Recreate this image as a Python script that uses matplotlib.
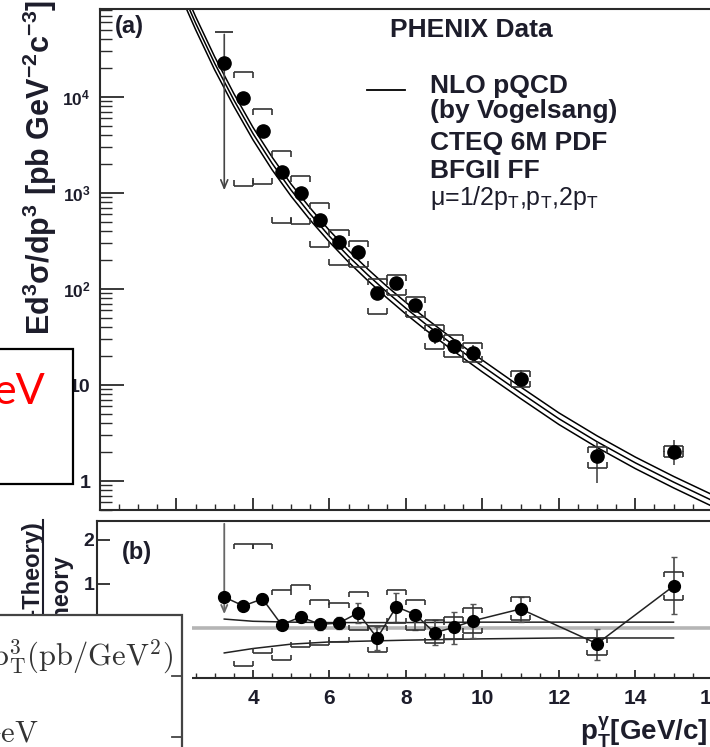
import numpy as np
import matplotlib
matplotlib.use('Agg')
import matplotlib.pyplot as plt
from matplotlib.patches import Rectangle
from matplotlib.lines import Line2D
from matplotlib.ticker import MultipleLocator, LogLocator, NullFormatter

plt.rcParams['font.family'] = ['Liberation Sans', 'DejaVu Sans']
plt.rcParams['mathtext.fontset'] = 'custom'
plt.rcParams['mathtext.rm'] = 'Liberation Sans:bold'
plt.rcParams['mathtext.it'] = 'Liberation Sans:bold'
plt.rcParams['mathtext.bf'] = 'Liberation Sans:bold'

### PHENIX direct photon points
pt = [3.25, 3.75, 4.25, 4.75, 5.25, 5.75, 6.25, 6.75, 7.25, 7.75, 8.25, 8.75, 9.25, 9.75, 11.0, 13.0, 15.0]
xsec = [22600, 9800, 4400, 1660, 1000, 525, 308, 243, 91, 115, 68, 33, 25.5, 21.5, 11.5, 1.82, 2.0]
stat_hi = [48000, 10600, 4800, 1800, 1090, 575, 340, 270, 103, 130, 78, 39, 30, 26, 14.2, 2.55, 2.67]
stat_lo = [1000, 9000, 4000, 1520, 920, 480, 280, 218, 78, 100, 58, 27, 21, 17.5, 9.3, 0.95, 1.47]
sys_hi = [np.nan, 18200, 7500, 2740, 1500, 790, 410, 316, 126, 140, 83, 42, 33, 27.5, 14, 2.26, 2.3]
sys_lo = [np.nan, 1180, 1240, 490, 480, 275, 178, 170, 55, 87, 51, 24, 19.5, 17.4, 9.6, 1.36, 1.78]

### (Data-Theory)/Theory
ratio = [0.70, 0.50, 0.66, 0.07, 0.25, 0.08, 0.11, 0.34, -0.23, 0.48, 0.30, -0.11, 0.01, 0.16, 0.43, -0.36, 0.95]
ratio_stat_hi = [3.0, 0.60, 0.76, 0.17, 0.36, 0.18, 0.25, 0.57, 0.02, 0.80, 0.41, 0.18, 0.36, 0.55, 0.70, -0.02, 1.61]
ratio_stat_lo = [0.25, 0.40, 0.56, -0.03, 0.14, -0.04, -0.03, 0.11, -0.50, 0.14, -0.05, -0.39, -0.36, -0.23, 0.14, -0.73, 0.32]
ratio_sys_hi = [np.nan, 1.90, 1.90, 0.86, 0.98, 0.64, 0.57, 0.82, 0.05, 0.85, 0.64, 0.18, 0.25, 0.45, 0.70, -0.22, 1.27]
ratio_sys_lo = [np.nan, -0.86, -0.57, -0.73, -0.43, -0.39, -0.32, -0.05, -0.55, 0.10, -0.05, -0.34, -0.25, -0.11, 0.18, -0.61, 0.64]

### NLO pQCD curves (mu = pT/2, pT, 2pT)
pt_th = [2.2, 2.5, 3.0, 3.5, 4.0, 4.5, 5.0, 5.5, 6.0, 6.5, 7.0, 7.5, 8.0, 8.5, 9.0, 9.5, 10, 11, 12, 13, 14, 15, 16, 17]
th_mid = [110000, 58900, 22400, 9330, 4170, 2040, 1070, 603, 355, 219, 141, 93.3, 63.1, 43.7, 30.9, 21.9,
          15.8, 8.32, 4.47, 2.57, 1.55, 0.977, 0.631, 0.417]
th_hi = [128700, 68900, 26200, 10870, 4840, 2370, 1236, 696, 408, 252, 162, 107, 72.6, 50.3, 35.5, 25.2,
         18.2, 9.57, 5.14, 2.96, 1.78, 1.12, 0.726, 0.480]
th_lo = [94000, 50400, 19150, 8020, 3590, 1750, 925, 522, 309, 191, 123, 81.2, 54.9, 38.0, 26.9, 19.1,
         13.7, 7.24, 3.89, 2.24, 1.35, 0.850, 0.549, 0.363]

### scale bands in the ratio panel
pt_sc = [3.25, 4, 5, 6, 7, 8, 10, 12, 15]
sc_hi = [0.20, 0.15, 0.13, 0.12, 0.12, 0.12, 0.13, 0.13, 0.13]
sc_lo = [-0.57, -0.47, -0.37, -0.32, -0.30, -0.28, -0.25, -0.23, -0.23]

legend_lines = ['NLO pQCD', '(by Vogelsang)', 'CTEQ 6M PDF', 'BFGII FF']

W, H = 710, 747
def fx(px):
    return px / W
def fy(py):
    return 1 - py / H

txt = '#1d1d2b'
spc = '#2a2a2a'

fig = plt.figure(figsize=(W / 100, H / 100), dpi=100)
ax = fig.add_axes([fx(100), fy(510), 650 / W, 501 / H])
ax2 = fig.add_axes([fx(97), fy(678), 650 / W, 157 / H])


def brackets(a, x, hi, lo, w=0.25, ms=4):
    x = np.asarray(x); hi = np.asarray(hi); lo = np.asarray(lo)
    ok = ~np.isnan(hi)
    x, hi, lo = x[ok], hi[ok], lo[ok]
    a.hlines(hi, x - w, x + w, color='#333333', lw=1.2, zorder=3)
    a.hlines(lo, x - w, x + w, color='#333333', lw=1.2, zorder=3)
    ends = np.concatenate([x - w, x + w])
    a.plot(ends, np.concatenate([hi, hi]), ls='none', marker=3, ms=ms, mew=1.2, color='#333333', zorder=3)
    a.plot(ends, np.concatenate([lo, lo]), ls='none', marker=2, ms=ms, mew=1.2, color='#333333', zorder=3)


#### top panel: cross section
ax.set_yscale('log')
for curve in (th_hi, th_mid, th_lo):
    ax.plot(pt_th, curve, color='black', lw=1.1, zorder=2)

y = np.array(xsec)
eh = np.array(stat_hi) - y
el = y - np.array(stat_lo)
ax.errorbar(pt[1:], xsec[1:], yerr=[el[1:], eh[1:]], fmt='none', ecolor='#555555', elinewidth=1.3, capsize=0, zorder=3)
# first point: upper limit arrow
ax.annotate('', xy=(pt[0], stat_lo[0]), xytext=(pt[0], stat_hi[0]),
            arrowprops=dict(arrowstyle='->,head_length=0.6,head_width=0.25', color='#444444', lw=1.2))
ax.hlines(stat_hi[0], pt[0] - 0.24, pt[0] + 0.24, color='#333333', lw=1.3)
brackets(ax, pt, sys_hi, sys_lo)
ax.plot(pt, xsec, ls='none', marker='o', ms=9.5, color='black', zorder=4)

ax.set_xlim(0, 17)
ax.set_ylim(0.5, 8.26e4)
ax.set_xticks(np.arange(0, 18, 2))
ax.xaxis.set_minor_locator(MultipleLocator(0.5))
ax.tick_params(axis='x', which='major', direction='in', length=8.6, width=1.3, color=spc, labelbottom=False)
ax.tick_params(axis='x', which='minor', direction='in', length=4.3, width=1.0, color=spc)
ax.set_yticks([1, 10, 100, 1000, 10000], labels=['1', '10', r'$10^2$', r'$10^3$', r'$10^4$'])
ax.yaxis.set_minor_locator(LogLocator(base=10, subs=np.arange(2, 10)))
ax.yaxis.set_minor_formatter(NullFormatter())
ax.tick_params(axis='y', which='major', direction='in', length=17, width=1.3, color=spc, pad=7)
ax.tick_params(axis='y', which='minor', direction='in', length=8.5, width=1.0, color=spc)
for lb in ax.get_yticklabels():
    lb.set_fontweight('bold')
    lb.set_color(txt)
    lb.set_fontsize(14 if lb.get_text() in ('1', '10') else 12.5)
for s in ax.spines.values():
    s.set_color(spc)
    s.set_linewidth(1.5)

#### bottom panel: ratio
ax2.axhline(0, color='#b5b5b5', lw=2.6, zorder=1)
ax2.plot(pt_sc, sc_hi, color='#222222', lw=1.1, zorder=2)
ax2.plot(pt_sc, sc_lo, color='#222222', lw=1.1, zorder=2)
r = np.array(ratio)
rh = np.array(ratio_stat_hi) - r
rl = r - np.array(ratio_stat_lo)
ax2.errorbar(pt[1:], ratio[1:], yerr=[rl[1:], rh[1:]], fmt='none', ecolor='#555555', elinewidth=1.3, capsize=2.5, zorder=3)
ax2.annotate('', xy=(pt[0], ratio_stat_lo[0]), xytext=(pt[0], 2.43),
             arrowprops=dict(arrowstyle='->,head_length=0.5,head_width=0.22', color='#666666', lw=1.3))
brackets(ax2, pt, ratio_sys_hi, ratio_sys_lo, ms=3.5)
ax2.plot(pt, ratio, color='#222222', lw=1.1, marker='o', ms=8.5, mfc='black', mec='black', zorder=4)

ax2.set_xlim(-3 / 38.25, 17 - 3 / 38.25)
ax2.set_ylim(-1.14, 2.43)
ax2.set_xticks(np.arange(0, 18, 2))
ax2.xaxis.set_minor_locator(MultipleLocator(0.5))
ax2.tick_params(axis='x', which='major', direction='in', length=5.5, width=1.3, color=spc, pad=8, labelsize=15, labelcolor=txt)
ax2.tick_params(axis='x', which='minor', direction='in', length=3.5, width=1.0, color=spc)
# the -1 and 0 labels sit under the pasted box, so they are left blank
ax2.set_yticks([-1, 0, 1, 2], labels=['', '', '1', '2'])
ax2.tick_params(axis='y', which='major', direction='in', length=9.5, width=1.3, color=spc, pad=2, labelsize=14, labelcolor=txt)
for lb in ax2.get_xticklabels() + ax2.get_yticklabels():
    lb.set_fontweight('bold')
for s in ax2.spines.values():
    s.set_color(spc)
    s.set_linewidth(1.5)

#### texts
fig.text(fx(115), fy(33), '(a)', fontsize=17, weight='bold', color=txt, va='baseline')
fig.text(fx(122), fy(559), '(b)', fontsize=17, weight='bold', color=txt, va='baseline')
fig.text(fx(390), fy(37), 'PHENIX Data', fontsize=19, weight='bold', color=txt, va='baseline')
fig.add_artist(Line2D([fx(367), fx(405)], [fy(90), fy(90)], color='black', lw=1.3))
for yy, line in zip([93, 118, 150, 178], legend_lines):
    fig.text(fx(430), fy(yy), line, fontsize=19, weight='bold', color=txt, va='baseline')
fig.text(fx(430), fy(205), r'μ=1/2p$_\mathrm{T}$,p$_\mathrm{T}$,2p$_\mathrm{T}$', fontsize=18,
         color=txt, va='baseline', math_fontfamily='stixsans')

fig.text(fx(40), fy(335), r'Ed$^3$σ/dp$^3$ [pb GeV$^{-2}$c$^{-3}$]', rotation=90, ha='center', va='bottom',
         fontsize=22, weight='bold', color=txt)
fig.text(fx(32), fy(520), '(Data-Theory)', rotation=90, ha='center', va='top', fontsize=17, weight='bold', color=txt)
fig.text(fx(62), fy(555), 'Theory', rotation=90, ha='center', va='top', fontsize=17, weight='bold', color=txt)
fig.add_artist(Line2D([fx(43), fx(43)], [fy(520), fy(740)], color=txt, lw=1.5))

fig.text(fx(707), fy(740), r'p$_\mathrm{T}^{\gamma}$[GeV/c]', ha='right', va='baseline', fontsize=20,
         weight='bold', color=txt)

#### pasted boxes on top
fig.add_artist(Rectangle((fx(-10), fy(484)), fx(83), 135 / H, transform=fig.transFigure,
                         facecolor='white', edgecolor='black', lw=1.6, zorder=5))
fig.text(fx(45), fy(404), 'eV', color='red', fontsize=31, family='Lato', ha='right', va='baseline', zorder=6)

fig.add_artist(Rectangle((fx(-10), fy(760)), fx(202), 145 / H, transform=fig.transFigure,
                         facecolor='white', edgecolor='none', zorder=5))
fig.add_artist(Rectangle((fx(-10), fy(760)), fx(192), 145 / H, transform=fig.transFigure,
                         facecolor='none', edgecolor='#444444', lw=1.6, zorder=6))
fig.text(fx(173), fy(665), r'$\mathrm{p}_\mathrm{T}^3\mathrm{(pb/GeV}^2\mathrm{)}$', ha='right', va='baseline',
         fontsize=22, color='#333333', math_fontfamily='cm', zorder=7)
fig.text(fx(39), fy(742), r'$\mathrm{GeV}$', ha='right', va='baseline', fontsize=22, color='#333333',
         math_fontfamily='cm', zorder=7)
for yy in (676, 737):
    fig.add_artist(Line2D([fx(172), fx(182)], [fy(yy), fy(yy)], color='#444444', lw=1.3, zorder=7))

fig.savefig('out.png', dpi=100)
